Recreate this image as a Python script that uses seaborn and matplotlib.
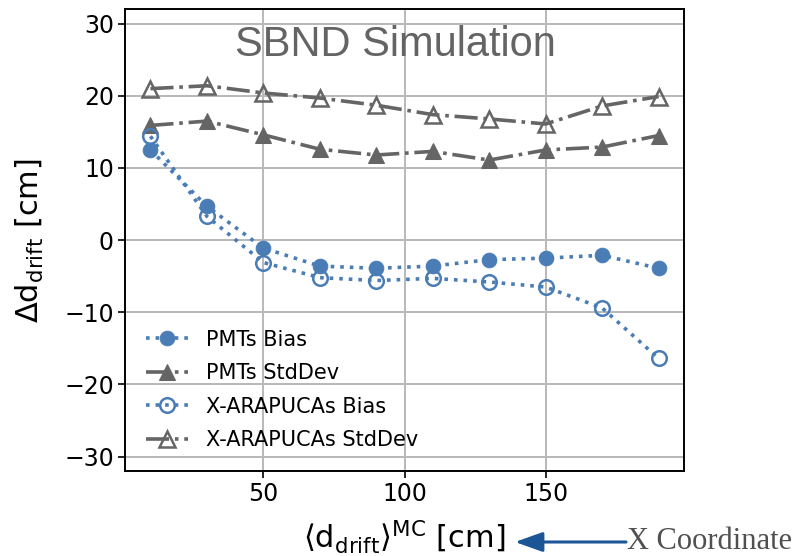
import numpy as np
import pandas as pd
import matplotlib
matplotlib.use("Agg")
import matplotlib.pyplot as plt
import seaborn as sns

# ---- data ----
drift = [10, 30, 50, 70, 90, 110, 130, 150, 170, 190]
pmt_bias = [12.5, 4.7, -1.1, -3.6, -3.9, -3.6, -2.7, -2.5, -2.1, -3.9]
pmt_std = [15.9, 16.5, 14.6, 12.6, 11.8, 12.3, 11.1, 12.5, 12.9, 14.5]
xa_bias = [14.4, 3.3, -3.1, -5.2, -5.6, -5.3, -5.8, -6.5, -9.4, -16.4]
xa_std = [21.0, 21.4, 20.4, 19.7, 18.7, 17.4, 16.8, 16.1, 18.6, 19.9]
labels = ["PMTs Bias", "PMTs StdDev", "X-ARAPUCAs Bias", "X-ARAPUCAs StdDev"]
yticks = [-30, -20, -10, 0, 10, 20, 30]
xticks = [50, 100, 150]

sns.set_style("white")
plt.rcParams["font.family"] = ["DejaVu Sans"]
plt.rcParams["mathtext.fontset"] = "dejavusans"
plt.rcParams["text.color"] = "black"
plt.rcParams["axes.labelcolor"] = "black"
plt.rcParams["xtick.color"] = "black"
plt.rcParams["ytick.color"] = "black"

fig = plt.figure(figsize=(8.03, 5.56), dpi=100)
ax = fig.add_axes([0.1557, 0.1529, 0.6961, 0.8304])

blue = "#4a7db5"
gray = "#656565"

series = [
    (pmt_bias, labels[0], dict(color=blue, linestyle=":", marker="o", markersize=10.5,
                               markerfacecolor=blue, markeredgecolor=blue)),
    (pmt_std, labels[1], dict(color=gray, linestyle="-.", marker="^", markersize=11.5,
                              markerfacecolor=gray, markeredgecolor=gray)),
    (xa_bias, labels[2], dict(color=blue, linestyle=":", marker="o", markersize=10.5,
                              markerfacecolor="none", markeredgecolor=blue, markeredgewidth=1.8)),
    (xa_std, labels[3], dict(color=gray, linestyle="-.", marker="^", markersize=11.5,
                             markerfacecolor="none", markeredgecolor=gray, markeredgewidth=1.8)),
]
for vals, lab, kw in series:
    df = pd.DataFrame({"x": drift, "y": vals})
    sns.lineplot(data=df, x="x", y="y", ax=ax, label=lab, linewidth=2.6, **kw)

ax.set_xlim(1, 199)
ax.set_ylim(-32, 32)
ax.set_xticks(xticks)
ax.set_yticks(yticks)
ax.grid(True, color="#b8b8b8", linewidth=1.4)
for s in ax.spines.values():
    s.set_color("black")
    s.set_linewidth(1.4)
ax.tick_params(axis="both", which="major", labelsize=17, direction="out",
               length=5, width=1.2, color="black", labelcolor="black",
               bottom=True, left=True, pad=3)

ax.set_xlabel(r"$\langle\mathrm{d_{drift}}\rangle^{\mathrm{MC}}$ [cm]", fontsize=22, labelpad=9)
ax.set_ylabel(r"$\Delta\mathrm{d_{drift}}$ [cm]", fontsize=22, labelpad=13)

ax.text(0.483, 0.965, "SBND Simulation", transform=ax.transAxes, ha="center", va="top",
        fontsize=30, color="#646464", family="Liberation Sans")

leg = ax.legend(loc="lower left", frameon=False, fontsize=15, labelspacing=0.65,
                handlelength=2.0, handletextpad=0.9, borderaxespad=0.6)

fig.text(627 / 803, 1 - 549 / 556, "X Coordinate", ha="left", va="baseline", fontsize=22,
         color="#505050", family="Liberation Serif")
fig.patches.append(matplotlib.patches.FancyArrowPatch(
    (626 / 803, 1 - 542 / 556), (515 / 803, 1 - 542 / 556), transform=fig.transFigure,
    arrowstyle="-|>,head_length=1.4,head_width=0.5", mutation_scale=12,
    color="#1b5596", linewidth=2.2, shrinkA=0, shrinkB=0))

fig.savefig("out.png", dpi=100)
